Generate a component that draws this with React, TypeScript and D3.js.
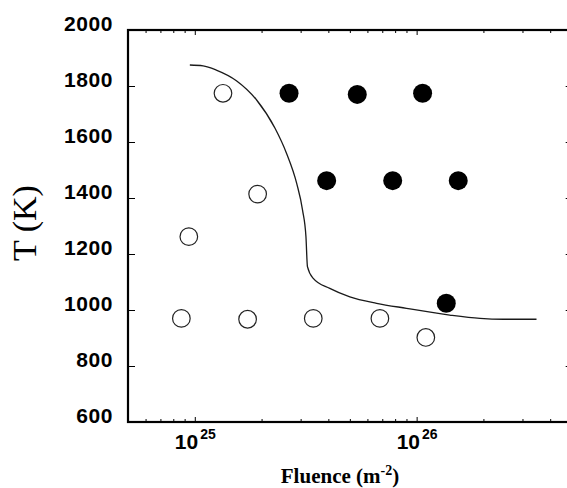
import React, { useLayoutEffect, useRef } from 'react';
import * as d3 from 'd3';

// open circles (no change observed)
const openFluence = [8.7e24, 1.73e25, 3.42e25, 6.83e25, 1.1e26, 1.34e25, 1.92e25, 9.4e24];
const openTemp = [970, 967, 970, 970, 902, 1774, 1414, 1262];

// filled circles
const filledFluence = [2.66e25, 5.4e25, 1.064e26, 3.93e25, 7.8e25, 1.54e26, 1.36e26];
const filledTemp = [1774, 1770, 1774, 1462, 1462, 1462, 1024];

// boundary curve
const curveFluence = [
  9.5e24, 1.09e25, 1.25e25, 1.54e25, 1.9e25, 2.3e25, 2.59e25, 2.88e25, 3.06e25, 3.17e25,
  3.22e25, 3.42e25, 4.06e25, 5.0e25, 6.6e25, 9.0e25, 1.41e26, 1.93e26, 2.46e26, 3.47e26,
];
const curveTemp = [
  1875, 1872, 1857, 1819, 1750, 1649, 1560, 1452, 1357, 1262,
  1155, 1113, 1077, 1047, 1024, 1006, 982, 970, 967, 967,
];

const xMinorTicks = [
  6e24, 7e24, 8e24, 9e24, 2e25, 3e25, 4e25, 5e25, 6e25, 7e25, 8e25, 9e25, 2e26, 3e26, 4e26,
];
const xMajorTicks = [1e25, 1e26];
const yTicks = [600, 800, 1000, 1200, 1400, 1600, 1800, 2000];

const width = 567;
const height = 488;
const plot = { left: 128, right: 571.7, top: 30, bottom: 422 };

const drawChart = (el: SVGSVGElement) => {
  const svg = d3.select(el);
  svg.selectAll('*').remove();

  const x = d3.scaleLog().domain([5e24, 5e26]).range([plot.left, plot.right]);
  const y = d3.scaleLinear().domain([600, 2000]).range([plot.bottom, plot.top]);

  const styleAxis = (g: d3.Selection<SVGGElement, unknown, null, undefined>) => {
    g.select('.domain').remove();
    g.selectAll('.tick line').attr('stroke', '#000').attr('stroke-width', 1);
  };

  // bottom minor / major ticks
  svg.append('g')
    .attr('transform', `translate(0,${plot.bottom})`)
    .call(d3.axisBottom(x).tickValues(xMinorTicks).tickSizeInner(-3).tickSizeOuter(0).tickFormat(() => ''))
    .call(styleAxis);
  const xb = svg.append('g')
    .attr('transform', `translate(0,${plot.bottom})`)
    .call(d3.axisBottom(x).tickValues(xMajorTicks).tickSizeInner(-5).tickSizeOuter(0).tickFormat(() => ''))
    .call(styleAxis)
    .attr('font-family', '"Liberation Sans", Arial, sans-serif')
    .attr('font-weight', 'bold')
    .attr('font-size', 21);
  xb.selectAll<SVGTextElement, number>('.tick text').each(function (d) {
    const t = d3.select(this);
    t.text(null).attr('y', 27).attr('dy', 0).attr('fill', '#000');
    t.append('tspan').text('10');
    t.append('tspan').attr('dx', 2).attr('dy', -10).attr('font-size', 14).text(Math.round(Math.log10(d)));
  });

  // top ticks
  svg.append('g')
    .attr('transform', `translate(0,${plot.top})`)
    .call(d3.axisTop(x).tickValues(xMinorTicks).tickSizeInner(-3).tickSizeOuter(0).tickFormat(() => ''))
    .call(styleAxis);
  svg.append('g')
    .attr('transform', `translate(0,${plot.top})`)
    .call(d3.axisTop(x).tickValues(xMajorTicks).tickSizeInner(-5).tickSizeOuter(0).tickFormat(() => ''))
    .call(styleAxis);

  // left axis
  const yl = svg.append('g')
    .attr('transform', `translate(${plot.left},0)`)
    .call(d3.axisLeft(y).tickValues(yTicks).tickSizeInner(-7).tickSizeOuter(0).tickPadding(15).tickFormat(d3.format('d')))
    .call(styleAxis)
    .attr('font-family', '"Liberation Sans", Arial, sans-serif')
    .attr('font-weight', 'bold')
    .attr('font-size', 21);
  yl.selectAll('.tick text').attr('dy', '0.03em').attr('fill', '#000').attr('letter-spacing', 0.6);

  // right axis
  svg.append('g')
    .attr('transform', `translate(${plot.right},0)`)
    .call(d3.axisRight(y).tickValues(yTicks).tickSizeInner(-6).tickSizeOuter(0).tickFormat(() => ''))
    .call(styleAxis);

  // frame
  svg.append('rect')
    .attr('x', plot.left)
    .attr('y', plot.top)
    .attr('width', plot.right - plot.left)
    .attr('height', plot.bottom - plot.top)
    .attr('fill', 'none')
    .attr('stroke', '#000')
    .attr('stroke-width', 2.2);

  // curve
  const curveData = curveFluence.map((f, i) => [f, curveTemp[i]] as [number, number]);
  const line = d3.line<[number, number]>()
    .x((d) => x(d[0]))
    .y((d) => y(d[1]))
    .curve(d3.curveMonotoneX);
  svg.append('path')
    .datum(curveData)
    .attr('d', line)
    .attr('fill', 'none')
    .attr('stroke', '#1a1a1a')
    .attr('stroke-width', 1.3);

  svg.append('g')
    .selectAll('circle')
    .data(openFluence.map((f, i) => [f, openTemp[i]]))
    .join('circle')
    .attr('cx', (d) => x(d[0]))
    .attr('cy', (d) => y(d[1]))
    .attr('r', 8.8)
    .attr('fill', '#fff')
    .attr('stroke', '#222')
    .attr('stroke-width', 1.2);

  svg.append('g')
    .selectAll('circle')
    .data(filledFluence.map((f, i) => [f, filledTemp[i]]))
    .join('circle')
    .attr('cx', (d) => x(d[0]))
    .attr('cy', (d) => y(d[1]))
    .attr('r', 9.5)
    .attr('fill', '#000');

  // axis titles
  const xt = svg.append('text')
    .attr('x', 340)
    .attr('y', 483)
    .attr('text-anchor', 'middle')
    .attr('font-family', '"Liberation Serif", "Times New Roman", serif')
    .attr('font-weight', 'bold')
    .attr('font-size', 21);
  xt.append('tspan').text('Fluence (m');
  xt.append('tspan').attr('dy', -8).attr('font-size', 14).text('-2');
  xt.append('tspan').attr('dy', 8).text(')');

  svg.append('text')
    .attr('transform', 'translate(36,223) rotate(-90)')
    .attr('text-anchor', 'middle')
    .attr('font-family', '"Liberation Serif", "Times New Roman", serif')
    .attr('font-size', 34)
    .text('T (K)');
};

export default function App() {
  const ref = useRef<SVGSVGElement>(null);

  useLayoutEffect(() => {
    if (ref.current) drawChart(ref.current);
  }, []);

  return (
    <svg
      ref={ref}
      width={width}
      height={height}
      style={{ position: 'absolute', left: 0, top: 0, background: '#fff' }}
    />
  );
}
